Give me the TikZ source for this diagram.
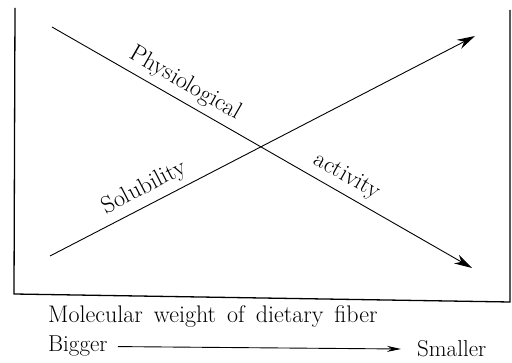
\documentclass[tikz,border=0pt]{standalone}
\usepackage{fontspec}
\usepackage{tikz}
\usetikzlibrary{arrows.meta,positioning}

\begin{document}
\begin{tikzpicture}[x=1pt,y=-1pt,
    frame/.style={draw=black,line width=1.3pt},
    trend/.style={draw=black,line width=0.9pt,-{Stealth[length=18pt,width=10pt]}},
    lbl/.style={font=\fontsize{24}{28}\selectfont,sloped,above,inner sep=6pt},
    txt/.style={font=\fontsize{23}{27}\selectfont,inner sep=0pt}]
    \useasboundingbox (0,0) rectangle (512,363);
    % Frame corners (open at the top)
    \coordinate (tl) at (15,8);
    \coordinate (bl) at (14,294);
    \coordinate (br) at (510,302);
    \coordinate (tr) at (510,10);
    \draw[frame] (tl) -- (bl) -- (br) -- (tr);

    % End points of the two curves
    \coordinate (physStart) at (52,27);
    \coordinate (physEnd) at (472,268);
    \coordinate (solStart) at (50,256);
    \coordinate (solEnd) at (475,36);

    \draw[trend] (physStart) -- node[lbl,pos=0.297]{Physiological} node[lbl,pos=0.682]{activity} (physEnd);
    \draw[trend] (solStart) -- node[lbl,pos=0.24]{Solubility} (solEnd);

    % Axis caption
    \node[txt,anchor=base west,font=\fontsize{24}{28}\selectfont] (molw) at (48,323) {Molecular\hspace{11pt}weight\hspace{11pt}of\hspace{11pt}dietary\hspace{11pt}fiber};
    \node[txt,anchor=base west] (bigger) at (48,352) {Bigger};
    \node[txt,anchor=base west] (smaller) at (417,357) {Smaller};
    \draw[line width=0.9pt,-{Stealth[length=14pt,width=6pt]},shorten <=10pt,shorten >=16pt] (bigger.east) -- (smaller.west);
\end{tikzpicture}
\end{document}
